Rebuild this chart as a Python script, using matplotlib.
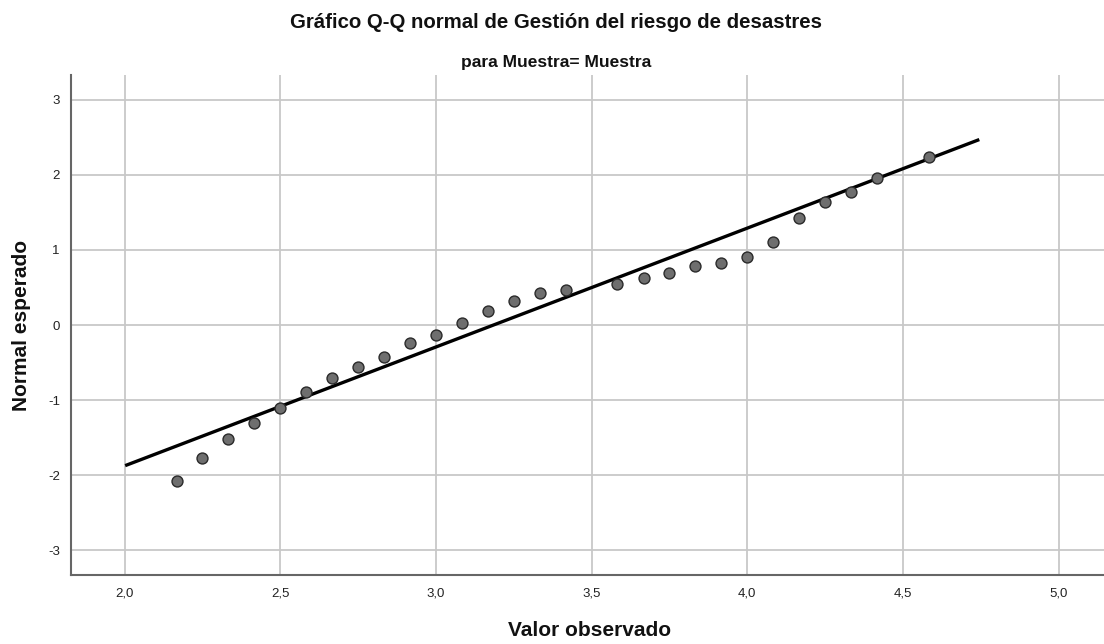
import matplotlib
matplotlib.use("Agg")
from matplotlib import pyplot as plt
from matplotlib.ticker import FuncFormatter
import numpy as np

plt.rcParams['font.family'] = ['Liberation Sans', 'DejaVu Sans']
plt.rcParams['axes.unicode_minus'] = False

# observed values (steps of 1/12) and expected normal values
observado = [2.167, 2.25, 2.333, 2.417, 2.5, 2.583, 2.667, 2.75, 2.833, 2.917,
             3.0, 3.083, 3.167, 3.25, 3.333, 3.417, 3.583, 3.667, 3.75, 3.833,
             3.917, 4.0, 4.083, 4.167, 4.25, 4.333, 4.417, 4.583]
esperado = [-2.08, -1.77, -1.52, -1.31, -1.11, -0.89, -0.70, -0.56, -0.42, -0.24,
            -0.13, 0.03, 0.19, 0.32, 0.43, 0.47, 0.54, 0.62, 0.69, 0.78,
            0.82, 0.90, 1.11, 1.43, 1.64, 1.77, 1.96, 2.24]

# reference line: (x - media) / desv
media = 3.185
desv = 0.631
linea_x = [2.007, 4.740]

x_ticks = [2.0, 2.5, 3.0, 3.5, 4.0, 4.5, 5.0]
y_ticks = [-3, -2, -1, 0, 1, 2, 3]

fig = plt.figure(figsize=(11.04, 6.44), dpi=100)
ax = fig.add_axes([71 / 1104, 1 - 575 / 644, 1 - 71 / 1104, 500 / 644])

ax.grid(True, color='#c8c8c8', linewidth=1.3, zorder=0)
ax.set_axisbelow(True)

lx = np.array(linea_x)
ax.plot(lx, (lx - media) / desv, color='black', linewidth=2.4, zorder=2)
ax.scatter(observado, esperado, s=62, color='#6e6e6e', edgecolors='#2a2a2a',
           linewidths=1.0, zorder=3)

ax.set_xlim(1.828, 5.1455)
ax.set_ylim(-3.333, 3.333)
ax.set_xticks(x_ticks)
ax.set_yticks(y_ticks)
ax.xaxis.set_major_formatter(FuncFormatter(lambda v, p: f"{v:.1f}".replace('.', ',')))
ax.tick_params(axis='both', length=0, labelsize=9.5, colors='#222222')
ax.tick_params(axis='x', pad=9)
ax.tick_params(axis='y', pad=8)

for s in ['top', 'right']:
    ax.spines[s].set_visible(False)
for s in ['left', 'bottom']:
    ax.spines[s].set_color('#666666')
    ax.spines[s].set_linewidth(1.5)

fig.text(590 / 1104, 1 - 630 / 644, "Valor observado", ha='center', va='center',
         fontsize=15, fontweight='bold', color='#111111')
fig.text(22 / 1104, 1 - 325 / 644, "Normal esperado", ha='center', va='center',
         rotation=90, fontsize=15, fontweight='bold', color='#111111')

fig.text(556 / 1104, 1 - 22 / 644, "Gráfico Q-Q normal de Gestión del riesgo de desastres",
         ha='center', va='center', fontsize=14.7, fontweight='bold', color='#111111')
fig.text(556 / 1104, 1 - 62 / 644, "para Muestra= Muestra",
         ha='center', va='center', fontsize=12.5, fontweight='bold', color='#111111')

plt.savefig("out.png", dpi=100)
